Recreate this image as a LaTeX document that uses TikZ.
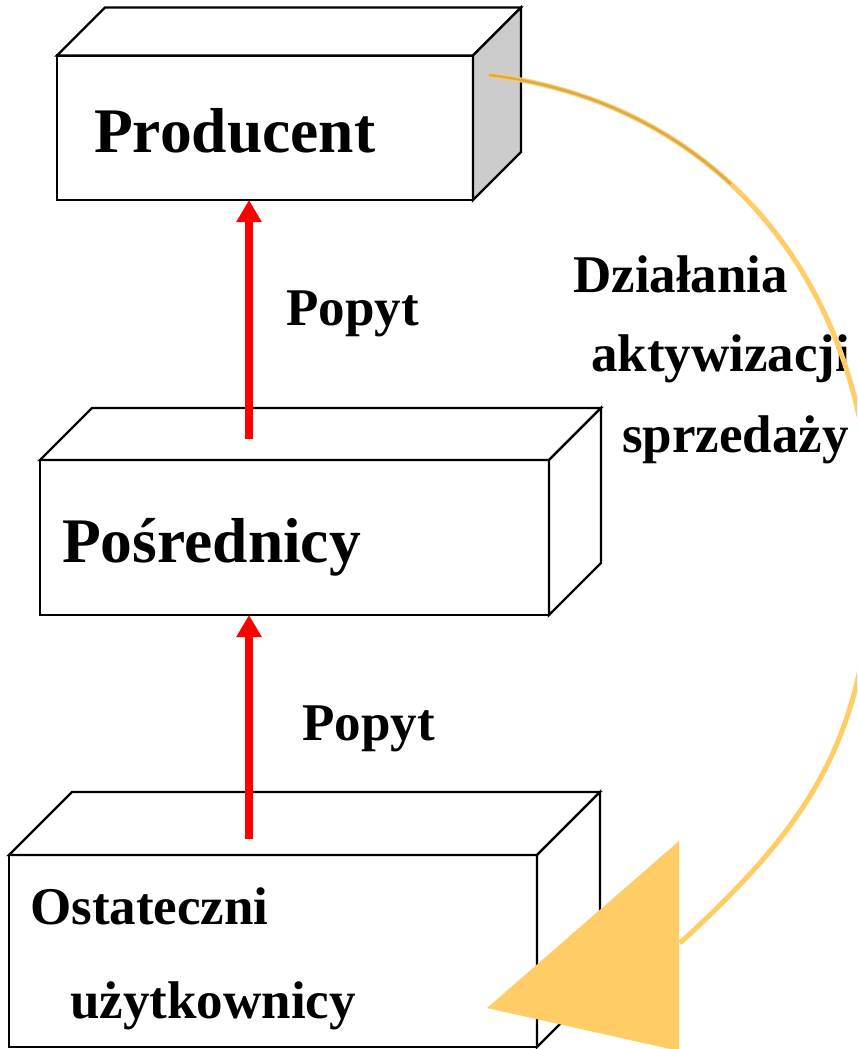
\documentclass[tikz,border=0pt]{standalone}
\usepackage{fontspec}
\setmainfont{Liberation Serif}
\usetikzlibrary{arrows.meta}
\definecolor{arcorange}{HTML}{FFCC66}
\definecolor{arccore}{HTML}{D8A94E}
\definecolor{sidegrey}{HTML}{CCCCCC}
\tikzset{
  front/.style={draw=black, line width=2.3pt, fill=white, rectangle, inner sep=0pt, outer sep=0pt},
  face/.style={draw=black, line width=2.3pt, line join=miter, fill=white},
  greyface/.style={face, fill=sidegrey},
  boxtext/.style={font=\fontsize{63.5}{70}\selectfont\bfseries, inner sep=0pt, anchor=base west},
  labeltext/.style={font=\fontsize{53}{60}\selectfont\bfseries, inner sep=0pt, anchor=base west},
  demand/.style={draw=red, line width=7.5pt, -{Triangle[width=24pt,length=22pt]}},
  arcline/.style={draw=arcorange, line width=5pt},
  arccoreline/.style={draw=arccore, line width=2.5pt, dash pattern=on 270pt off 3000pt}
}
\begin{document}
\begin{tikzpicture}[x=1pt,y=-1pt]
\useasboundingbox (0,0) rectangle (857,1049);
\clip (0,0) rectangle (857,1049);

% Producent box
\node[front, minimum width=416pt, minimum height=144.5pt] (prod) at (265,127.75) {};
\draw[face] (prod.north west) -- ++(48,-48) -- ++(416,0) -- (prod.north east) -- cycle;
\draw[greyface] (prod.north east) -- ++(48,-48) -- ++(0,144.5) -- (prod.south east) -- cycle;
\node[boxtext] (prodtxt) at (94,152) {Producent};

% Posrednicy box
\node[front, minimum width=509pt, minimum height=155pt] (pos) at (294.5,537.5) {};
\draw[face] (pos.north west) -- ++(52,-52) -- ++(509,0) -- (pos.north east) -- cycle;
\draw[face] (pos.north east) -- ++(52,-52) -- ++(0,155) -- (pos.south east) -- cycle;
\node[boxtext] (postxt) at (62,562) {Pośrednicy};

% Ostateczni box
\node[front, minimum width=528pt, minimum height=192pt] (ost) at (273,951) {};
\draw[face] (ost.north west) -- ++(63,-63) -- ++(528,0) -- (ost.north east) -- cycle;
\draw[face] (ost.north east) -- ++(63,-63) -- ++(0,192) -- (ost.south east) -- cycle;
\node[labeltext] (osttxt1) at (30,924) {Ostateczni};
\node[labeltext] (osttxt2) at (70,1018) {użytkownicy};

% Demand arrows
\coordinate (d1s) at (249,439);
\coordinate (d2s) at (249,839);
\draw[demand] (d1s) -- (prod.south -| d1s);
\draw[demand] (d2s) -- (pos.south -| d2s);
\node[labeltext] (pop1) at (286,325) {Popyt};
\node[labeltext] (pop2) at (302,740) {Popyt};

% Label of the arc
\node[labeltext] (act1) at (573,292) {Działania};
\node[labeltext] (act2) at (591,371) {aktywizacji};
\node[labeltext] (act3) at (622,452) {sprzedaży};

% Arc
\coordinate (arcstart) at (489,75);
\coordinate (arcmid) at (872,540);
\coordinate (arcend) at (680,943);
\draw[arcline] (arcstart) .. controls (719,103) and (872,284) .. (arcmid)
  .. controls (872,740) and (805,828) .. (arcend);
\draw[arccoreline] (arcstart) .. controls (719,103) and (872,284) .. (arcmid);
\fill[arcorange] (679,841) -- (487,1008) -- (679,1051) -- cycle;
\end{tikzpicture}
\end{document}
